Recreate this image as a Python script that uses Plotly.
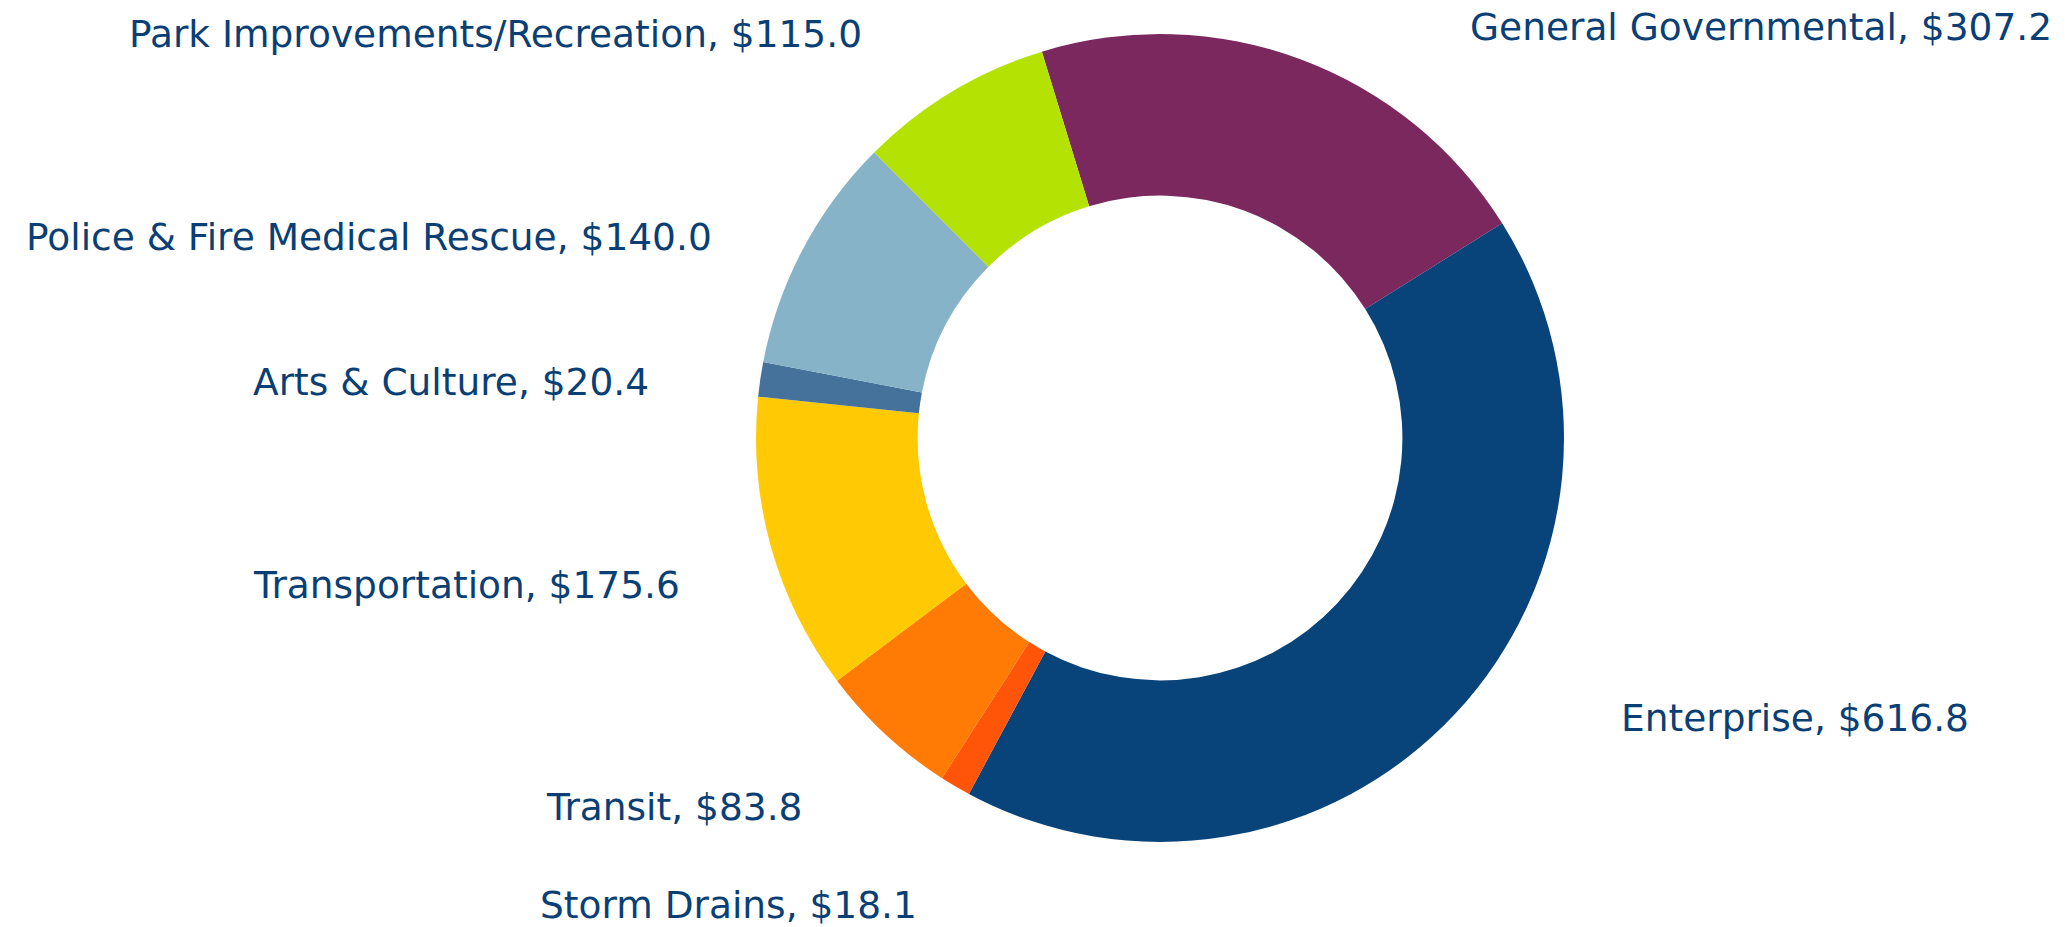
import plotly.graph_objects as go

categories = ["General Governmental", "Enterprise", "Storm Drains", "Transit",
              "Transportation", "Arts & Culture", "Police & Fire Medical Rescue",
              "Park Improvements/Recreation"]
values = [307.2, 616.8, 18.1, 83.8, 175.6, 20.4, 140.0, 115.0]
colors = ["#7B285E", "#08437A", "#FF5508", "#FF7B05", "#FFC904", "#44729A",
          "#87B3C8", "#B4E303"]

# label anchor positions in pixels (center x, text middle y) on the 2065x927 canvas
label_pos = {
    "General Governmental": (1761, 27),
    "Enterprise": (1795, 718),
    "Storm Drains": (728, 905),
    "Transit": (674, 807),
    "Transportation": (466, 585),
    "Arts & Culture": (451, 382),
    "Police & Fire Medical Rescue": (369, 237),
    "Park Improvements/Recreation": (495, 34),
}

W, H = 2065, 927
cx, cy, r = 1160, 438, 404

fig = go.Figure(go.Pie(
    labels=categories,
    values=values,
    hole=0.6,
    sort=False,
    direction="clockwise",
    rotation=-17,
    marker=dict(colors=colors, line=dict(width=0)),
    textinfo="none",
    hoverinfo="label+value",
    showlegend=False,
    domain=dict(x=[(cx - r) / W, (cx + r) / W], y=[1 - (cy + r) / H, 1 - (cy - r) / H]),
))

annotations = []
for cat, val in zip(categories, values):
    px, py = label_pos[cat]
    annotations.append(dict(
        x=px / W, y=1 - py / H, xref="paper", yref="paper",
        text=f"{cat}, ${val:.1f}", showarrow=False,
        xanchor="center", yanchor="middle",
        font=dict(family="DejaVu Sans", size=37.5, color="#0A3F75"),
    ))

fig.update_layout(
    width=W, height=H,
    margin=dict(l=0, r=0, t=0, b=0),
    paper_bgcolor="white", plot_bgcolor="white",
    annotations=annotations,
)

fig.write_html(
    "out.html",
    config={"displayModeBar": False},
    post_script="document.body.style.margin='0';document.body.style.overflow='hidden';",
)
